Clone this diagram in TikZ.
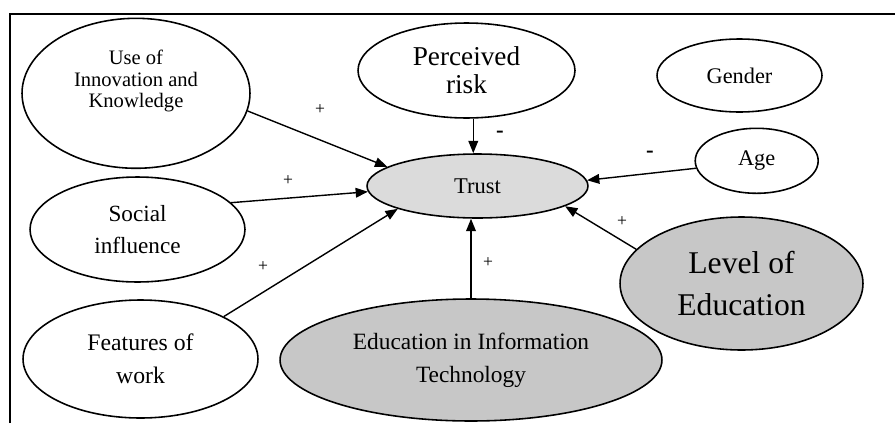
\documentclass[tikz,border=0pt]{standalone}
\usepackage{fontspec}
\setmainfont{Liberation Serif}
\usepackage{tikz}
\usetikzlibrary{shapes.geometric}
\usetikzlibrary{arrows.meta}
\definecolor{trustgray}{gray}{0.86}
\definecolor{edugray}{gray}{0.78}

\begin{document}
\begin{tikzpicture}[x=0.02cm,y=-0.02cm,
			var/.style={draw,ellipse,inner sep=0pt,line width=.9pt,align=center},
			link/.style={-{Triangle[length=7pt,width=5.5pt]},line width=.8pt},
			sgn/.style={inner sep=0pt,font=\fontsize{10}{10}\selectfont},
			neg/.style={inner sep=0pt,font=\bfseries\fontsize{13}{13}\selectfont}
			]
			\useasboundingbox (0,0) rectangle (895,423);
			\draw[line width=1pt] (10,423) -- (10,14) -- (895,14);
			%%%%%%%%%%%%%%%
			\node[var,minimum width=4.56cm,minimum height=3cm] (use) at (136,93.3) {};
			\node[align=center,inner sep=0pt,font=\fontsize{11.7}{12.5}\selectfont] (use-txt) at (136,81) {Use of\\Innovation and\\Knowledge};
			\node[var,minimum width=4.34cm,minimum height=1.9cm,font=\fontsize{15.5}{16}\selectfont] (risk) at (466.5,70.5) {Perceived\\risk};
			\node[var,minimum width=3.3cm,minimum height=1.46cm,font=\fontsize{12.7}{14}\selectfont] (gender) at (739.5,75.5) {Gender};
			\node[var,minimum width=2.46cm,minimum height=1.3cm,font=\fontsize{12.7}{14}\selectfont] (age) at (756.7,160.8) {Age};
			%%%%%%%%%%%%%%%
			\node[var,fill=trustgray,minimum width=4.42cm,minimum height=1.28cm,font=\fontsize{12.8}{14}\selectfont] (trust) at (477.5,186) {Trust};
			%%%%%%%%%%%%%%%
			\node[var,minimum width=4.3cm,minimum height=2.1cm,font=\fontsize{13.2}{18.1}\selectfont] (social) at (137.5,229.5) {Social\\influence};
			\node[var,minimum width=4.7cm,minimum height=2.36cm,font=\fontsize{13.5}{18.7}\selectfont] (work) at (140.5,359) {Features of\\work};
			\node[var,fill=edugray,minimum width=7.64cm,minimum height=2.44cm,font=\fontsize{13.3}{18.7}\selectfont] (eduit) at (471,360) {Education in Information\\Technology};
			\node[var,fill=edugray,minimum width=4.86cm,minimum height=2.66cm,font=\fontsize{18}{24.4}\selectfont] (level) at (741.5,283.5) {Level of\\Education};
			%%%%%%%%%%%%%%%
			\draw[link] (use.-9.5) -- (trust.168);
			\draw[link] (social.16.8) -- (trust.183.8);
			\draw[link] (work.27.8) -- (trust.196);
			\draw[link] (risk.-82) -- (risk.-82 |- trust.north);
			\draw[link] (age.187) -- (trust.3);
			\draw[link] (level.162.7) -- (trust.-13.8);
			\draw[link] (eduit.north) -- (eduit.north |- trust.south);
			%%%%%%%%%%%%%%%
			\node[sgn] (p-use) at (320,110) {+};
			\node[sgn] (p-social) at (288,181) {+};
			\node[sgn] (p-work) at (263,267) {+};
			\node[sgn] (p-eduit) at (488,263) {+};
			\node[sgn] (p-level) at (622,222) {+};
			\node[neg] (m-risk) at (500,134) {-};
			\node[neg] (m-age) at (650,154) {-};
		\end{tikzpicture}
\end{document}
